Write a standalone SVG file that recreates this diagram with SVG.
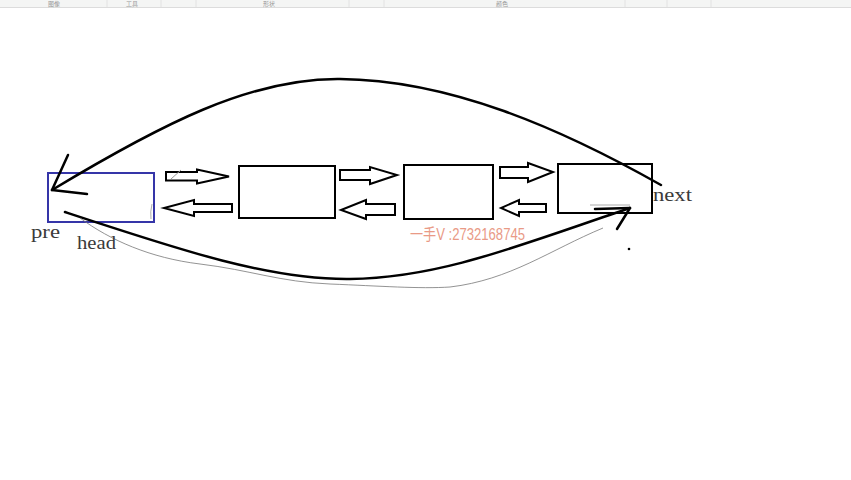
<svg xmlns="http://www.w3.org/2000/svg" width="851" height="480" viewBox="0 0 851 480">
<style>
.box{fill:#fff;stroke:#000;stroke-width:2}
.blk{fill:#fff;stroke:#000;stroke-width:2;stroke-linejoin:miter}
.curve{fill:none;stroke:#000;stroke-width:2.5;stroke-linecap:round}
.thin{fill:none;stroke:#777;stroke-width:0.8}
.lbl{font-family:"Liberation Serif",serif;font-size:18px;fill:#3a3a3a}
.bar{font-family:"Noto Sans CJK SC",sans-serif;font-size:6px;fill:#999}
</style>
<rect width="851" height="480" fill="#fff"/>
<g id="toolbar">
<rect x="0" y="0" width="851" height="7" fill="#f4f5f4"/>
<line x1="0" y1="7.5" x2="851" y2="7.5" stroke="#dcdcdc" stroke-width="1"/>
<g stroke="#e2e2e2" stroke-width="1">
<line x1="107" y1="0" x2="107" y2="7"/><line x1="161" y1="0" x2="161" y2="7"/><line x1="196" y1="0" x2="196" y2="7"/><line x1="349" y1="0" x2="349" y2="7"/><line x1="384" y1="0" x2="384" y2="7"/><line x1="625" y1="0" x2="625" y2="7"/><line x1="667" y1="0" x2="667" y2="7"/><line x1="711" y1="0" x2="711" y2="7"/>
</g>
<text class="bar" x="48" y="6">图像</text>
<text class="bar" x="126" y="6">工具</text>
<text class="bar" x="263" y="6">形状</text>
<text class="bar" x="496" y="6">颜色</text>
</g>
<g id="node-head">
<rect x="48" y="173" width="106" height="49" fill="#fff" stroke="#3535a8" stroke-width="2"/>
<path d="M152,204 Q150,212 151,219" fill="none" stroke="#999" stroke-width="0.8"/>
</g>
<g id="node-2"><rect class="box" x="239" y="166" width="96" height="52"/></g>
<g id="node-3"><rect class="box" x="404" y="165" width="89" height="54"/></g>
<g id="node-4"><rect class="box" x="558" y="164" width="94" height="49"/></g>
<g id="connectors">
<path class="blk" d="M166,172 H197 V169.5 L229,176.5 L197,183.5 V180.5 H166 Z"/>
<path d="M171,179 L181,170" stroke="#999" stroke-width="1" fill="none"/>
<path class="blk" d="M232,204 H194 V200 L164,208 L194,216 V212 H232 Z"/>
<path class="blk" d="M340,170 H370 V167 L397,175 L370,184 V180 H340 Z"/>
<path class="blk" d="M395,204 H366 V200 L341,210 L366,219 V215 H395 Z"/>
<path class="blk" d="M500,167 H528 V163 L553,172 L528,182 V178 H500 Z"/>
<path class="blk" d="M546,204 H519 V200 L501,208 L519,216 V212 H546 Z"/>
<path class="curve" d="M661,185 C560,128 450,80 340,79 C250,78 160,125 52,190"/>
<path class="curve" d="M52,190 L68,155 M52,190 L87,194"/>
<path class="curve" d="M65,212 C180,250 270,280 350,279 C440,278 520,245 630,208"/>
<path class="curve" d="M630,208 L617,229 M630,208 L595,209"/>
<path d="M590,205 H630" stroke="#aaa" stroke-width="1" fill="none"/>
<path class="thin" d="M80,218 C110,240 150,258 200,264 C250,270 280,282 330,284 C380,286 420,289 450,287 C510,280 550,250 603,228"/>
<circle cx="629" cy="249" r="1.3" fill="#000"/>
</g>
<text class="lbl" x="31" y="238" textLength="29" lengthAdjust="spacingAndGlyphs">pre</text>
<text class="lbl" x="77" y="249" textLength="39" lengthAdjust="spacingAndGlyphs">head</text>
<text class="lbl" x="653" y="201" textLength="39" lengthAdjust="spacingAndGlyphs">next</text>
<text x="410" y="240" font-family="'Liberation Sans','Noto Sans CJK SC',sans-serif" font-size="16" fill="#e99a86" textLength="115" lengthAdjust="spacingAndGlyphs">一手V :2732168745</text>
</svg>
